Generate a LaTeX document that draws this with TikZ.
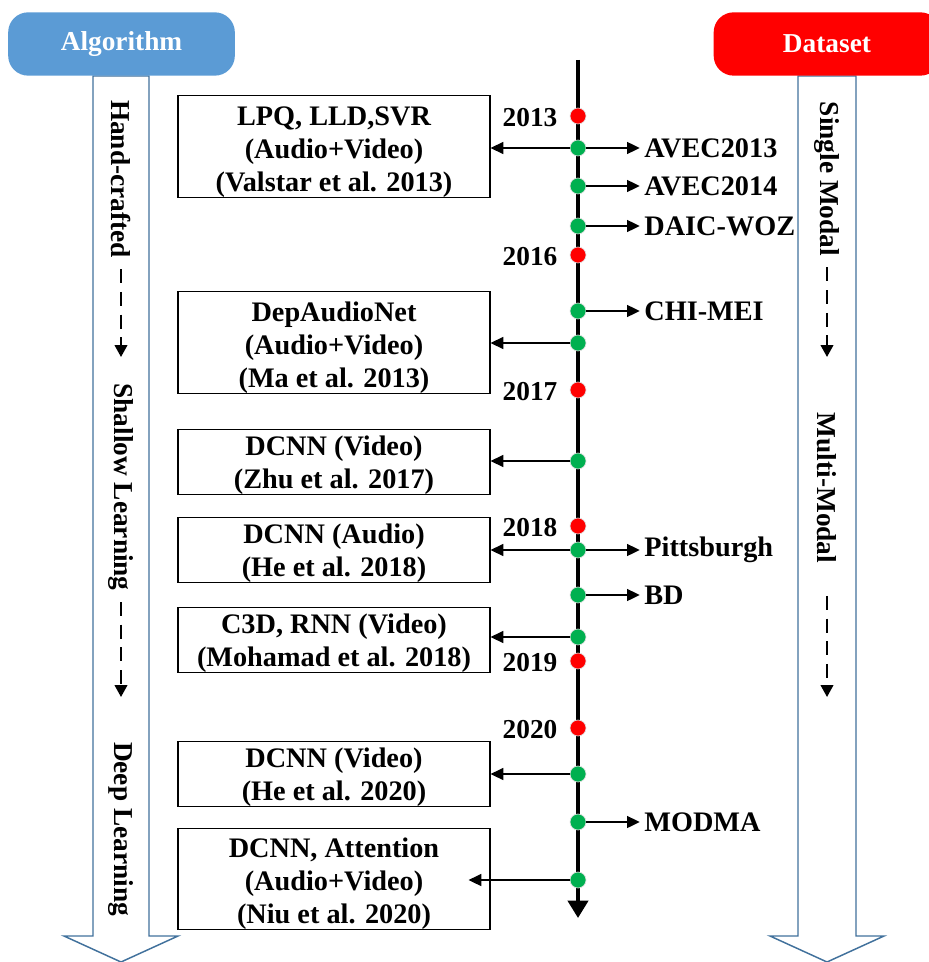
\documentclass[tikz,border=0pt]{standalone}
\usepackage{fontspec}
\setmainfont{Liberation Serif}
\usetikzlibrary{arrows.meta,positioning}

\definecolor{algoblue}{RGB}{91,155,213}
\definecolor{frameblue}{RGB}{65,113,156}
\definecolor{dotgreen}{RGB}{0,176,80}
\definecolor{dotred}{RGB}{255,0,0}

% struts to push the first line down a bit
\newcommand{\tallgap}{\rule{0pt}{22pt}}
\newcommand{\shortgap}{\rule{0pt}{19.5pt}}

\begin{document}
\begin{tikzpicture}[
x=0.75pt, y=-0.75pt,
font=\fontsize{20.5}{24.7}\selectfont\bfseries,
big/.style={font=\fontsize{21.2}{24.7}\selectfont\bfseries},
header/.style={rounded corners=15pt, minimum width=170pt, minimum height=47.5pt, text=white},
bigarrow/.style={draw=frameblue, line width=1.1pt, fill=white},
side/.style={rotate=-90},
dasharr/.style={dash pattern=on 10.5pt off 6.5pt, line width=1.5pt, shorten <=5pt, -{Triangle[length=9pt,width=9.5pt]}},
paper/.style={big, draw, fill=white, line width=0.9pt, minimum width=234pt, align=center, inner xsep=2pt, inner ysep=0pt},
tall/.style={paper, minimum height=75.75pt},
short/.style={paper, minimum height=48pt},
dot/.style={circle, inner sep=0pt, minimum size=12pt, draw=gray!25, line width=0.5pt},
reddot/.style={dot, fill=dotred},
greendot/.style={dot, fill=dotgreen},
year/.style={inner sep=0pt, yshift=-1.5pt},
dset/.style={big},
conn/.style={line width=1.2pt, -{Triangle[length=9.5pt,width=9pt]}}
]
\useasboundingbox (0,0) rectangle (928,962);

% two columns
\draw[bigarrow] (93,76) -- (93,936) -- (64,936) -- (121,962) -- (178,936) -- (149,936) -- (149,76) -- cycle;
\draw[bigarrow] (798,76) -- (798,936) -- (770,936) -- (827,962) -- (884,936) -- (856,936) -- (856,76) -- cycle;

\node[header, fill=algoblue] (algo) at (121.5,44) {Algorithm};
\node[header, fill=dotred] (dataset) at (827,44) {Dataset};

\node[side] (hand) at (121,179) {Hand-crafted};
\node[side] (shallow) at (121,487) {Shallow Learning};
\node[side] (deep) at (121,829) {Deep Learning};
\node[side] (single) at (827,179) {Single Modal};
\node[side] (multi) at (827,488) {Multi-Modal};

\coordinate (hand end) at (121,357);
\coordinate (shallow end) at (121,697);
\coordinate (single end) at (827,357);
\coordinate (multi end) at (827,697);
\draw[dasharr] (hand) -- (hand end);
\draw[dasharr] (shallow) -- (shallow end);
\draw[dasharr] (single) -- (single end);
\draw[dasharr, shorten <=21pt] (multi) -- (multi end);

% timeline
\coordinate (t top) at (578,60);
\coordinate (t end) at (578,918);
\draw[line width=3pt, -{Triangle[length=13pt,width=15pt]}] (t top) -- (t end);

\node[reddot] (y2013) at (578,116) {};
\node[greendot] (dAvec13) at (578,148) {};
\node[greendot] (dAvec14) at (578,186) {};
\node[greendot] (dDaic) at (578,226) {};
\node[reddot] (y2016) at (578,255) {};
\node[greendot] (dChimei) at (578,311) {};
\node[greendot] (dMa) at (578,343) {};
\node[reddot] (y2017) at (578,390) {};
\node[greendot] (dZhu) at (578,461) {};
\node[reddot] (y2018) at (578,526) {};
\node[greendot] (dPitts) at (578,550) {};
\node[greendot] (dBD) at (578,595) {};
\node[greendot] (dMohamad) at (578,637) {};
\node[reddot] (y2019) at (578,661) {};
\node[reddot] (y2020) at (578,728) {};
\node[greendot] (dHe20) at (578,774) {};
\node[greendot] (dModma) at (578,822) {};
\node[greendot] (dNiu) at (578,880) {};

\node[year, left=9pt of y2013] (l2013) {2013};
\node[year, left=9pt of y2016] (l2016) {2016};
\node[year, left=9pt of y2017] (l2017) {2017};
\node[year, left=9pt of y2018] (l2018) {2018};
\node[year, left=9pt of y2019] (l2019) {2019};
\node[year, left=9pt of y2020] (l2020) {2020};

% datasets
\node[dset, right=40pt of dAvec13] (avec13) {AVEC2013};
\node[dset, right=40pt of dAvec14] (avec14) {AVEC2014};
\node[dset, right=40pt of dDaic] (daic) {DAIC-WOZ};
\node[dset, right=40pt of dChimei] (chimei) {CHI-MEI};
\node[dset, right=40pt of dPitts] (pitts) {Pittsburgh};
\node[dset, right=40pt of dBD] (bd) {BD};
\node[dset, right=40pt of dModma] (modma) {MODMA};

\draw[conn] (dAvec13) -- (avec13);
\draw[conn] (dAvec14) -- (avec14);
\draw[conn] (dDaic) -- (daic);
\draw[conn] (dChimei) -- (chimei);
\draw[conn] (dPitts) -- (pitts);
\draw[conn] (dBD) -- (bd);
\draw[conn] (dModma) -- (modma);

% algorithms
\node[tall] (valstar) at (334,146.5) {\tallgap LPQ, LLD,SVR\\(Audio+Video)\\(Valstar et al. 2013)};
\node[tall] (ma) at (334,342.5) {\tallgap DepAudioNet\\(Audio+Video)\\(Ma et al. 2013)};
\node[short] (zhu) at (334,462) {\shortgap DCNN (Video)\\(Zhu et al. 2017)};
\node[short] (he18) at (334,550) {\shortgap DCNN (Audio)\\(He et al. 2018)};
\node[short] (mohamad) at (334,640) {\shortgap C3D, RNN (Video)\\(Mohamad et al. 2018)};
\node[short] (he20) at (334,774) {\shortgap DCNN (Video)\\(He et al. 2020)};
\node[tall] (niu) at (334,879) {\tallgap DCNN, Attention\\(Audio+Video)\\(Niu et al. 2020)};

\draw[conn] (dAvec13) -- (valstar.east |- dAvec13);
\draw[conn] (dMa) -- (ma.east |- dMa);
\draw[conn] (dZhu) -- (zhu.east |- dZhu);
\draw[conn] (dPitts) -- (he18.east |- dPitts);
\draw[conn] (dMohamad) -- (mohamad.east |- dMohamad);
\draw[conn] (dHe20) -- (he20.east |- dHe20);
\draw[conn] (dNiu) -- ([xshift=-16.5pt]niu.east |- dNiu);
\end{tikzpicture}
\end{document}
